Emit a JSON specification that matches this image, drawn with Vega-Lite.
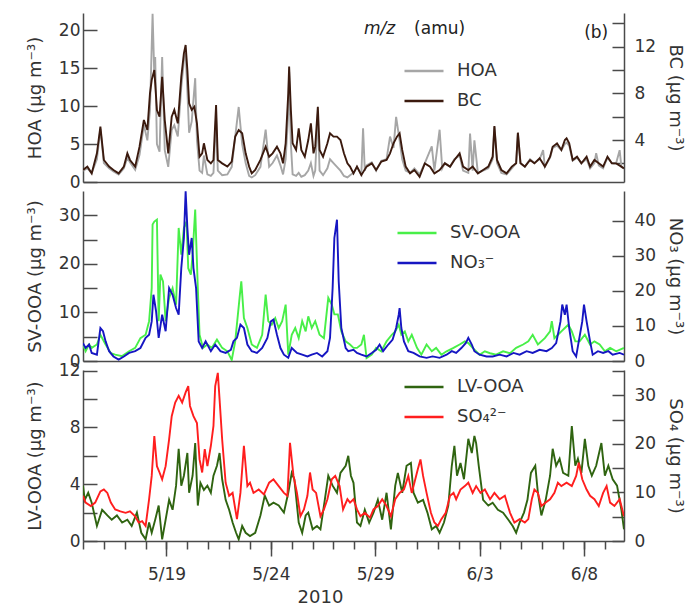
{
"$schema":"https://vega.github.io/schema/vega-lite/v6.json",
"padding":{"left":26,"top":13,"right":4,"bottom":0},
"bounds":"flush",
"spacing":9,
"config":{"font":"DejaVu Sans","view":{"stroke":null},
"axis":{"grid":false,"domainColor":"#4a4a4a","domainWidth":1.5,"tickColor":"#4a4a4a","tickWidth":1.5,"labelFont":"DejaVu Sans","labelFontSize":17,"labelColor":"#333333","titleFont":"DejaVu Sans","titleFontSize":18,"titleFontWeight":"normal","titleColor":"#333333"},
"legend":{"labelFont":"DejaVu Sans","labelFontSize":18,"labelColor":"#333333","symbolType":"stroke","symbolSize":1521,"symbolStrokeWidth":2.5,"labelOffset":12}},
"datasets":{
"hoa":[{"t":"2010-05-15T00:00","v":1.5},{"t":"2010-05-15T05:00","v":1.8},{"t":"2010-05-15T10:00","v":1.2},{"t":"2010-05-15T16:00","v":3.0},{"t":"2010-05-15T20:00","v":7.0},{"t":"2010-05-16T00:00","v":2.5},{"t":"2010-05-16T06:00","v":1.8},{"t":"2010-05-16T11:00","v":1.4},{"t":"2010-05-16T17:00","v":1.0},{"t":"2010-05-16T23:00","v":1.8},{"t":"2010-05-17T03:00","v":3.2},{"t":"2010-05-17T06:00","v":2.6},{"t":"2010-05-17T12:00","v":1.6},{"t":"2010-05-17T17:00","v":3.6},{"t":"2010-05-17T22:00","v":7.5},{"t":"2010-05-18T02:00","v":5.5},{"t":"2010-05-18T05:00","v":9.5},{"t":"2010-05-18T08:00","v":22.2},{"t":"2010-05-18T10:00","v":14.0},{"t":"2010-05-18T11:00","v":16.5},{"t":"2010-05-18T13:00","v":5.0},{"t":"2010-05-18T16:00","v":4.0},{"t":"2010-05-18T19:00","v":16.5},{"t":"2010-05-18T22:00","v":4.2},{"t":"2010-05-19T02:00","v":2.0},{"t":"2010-05-19T06:00","v":6.9},{"t":"2010-05-19T09:00","v":7.5},{"t":"2010-05-19T13:00","v":6.0},{"t":"2010-05-19T17:00","v":12.5},{"t":"2010-05-19T20:00","v":16.0},{"t":"2010-05-19T22:00","v":17.0},{"t":"2010-05-20T00:00","v":12.0},{"t":"2010-05-20T02:00","v":6.5},{"t":"2010-05-20T05:00","v":8.0},{"t":"2010-05-20T09:00","v":13.7},{"t":"2010-05-20T11:00","v":5.5},{"t":"2010-05-20T14:00","v":1.5},{"t":"2010-05-20T17:00","v":1.2},{"t":"2010-05-20T19:00","v":3.5},{"t":"2010-05-20T23:00","v":1.0},{"t":"2010-05-21T03:00","v":0.8},{"t":"2010-05-21T06:00","v":1.2},{"t":"2010-05-21T09:00","v":8.5},{"t":"2010-05-21T11:00","v":1.5},{"t":"2010-05-21T16:00","v":0.9},{"t":"2010-05-21T22:00","v":1.0},{"t":"2010-05-22T03:00","v":2.0},{"t":"2010-05-22T07:00","v":6.0},{"t":"2010-05-22T11:00","v":9.9},{"t":"2010-05-22T15:00","v":5.0},{"t":"2010-05-22T19:00","v":2.5},{"t":"2010-05-22T23:00","v":0.8},{"t":"2010-05-23T02:00","v":0.6},{"t":"2010-05-23T06:00","v":0.9},{"t":"2010-05-23T12:00","v":2.0},{"t":"2010-05-23T18:00","v":6.9},{"t":"2010-05-23T22:00","v":2.0},{"t":"2010-05-24T02:00","v":2.5},{"t":"2010-05-24T07:00","v":3.5},{"t":"2010-05-24T11:00","v":2.2},{"t":"2010-05-24T14:00","v":1.0},{"t":"2010-05-24T17:00","v":3.0},{"t":"2010-05-24T20:00","v":9.0},{"t":"2010-05-24T21:00","v":14.5},{"t":"2010-05-24T23:00","v":5.0},{"t":"2010-05-25T01:00","v":1.0},{"t":"2010-05-25T05:00","v":0.8},{"t":"2010-05-25T08:00","v":1.2},{"t":"2010-05-25T11:00","v":0.7},{"t":"2010-05-25T15:00","v":0.9},{"t":"2010-05-25T19:00","v":1.5},{"t":"2010-05-25T22:00","v":2.5},{"t":"2010-05-26T01:00","v":0.8},{"t":"2010-05-26T03:00","v":1.5},{"t":"2010-05-26T06:00","v":9.0},{"t":"2010-05-26T08:00","v":1.5},{"t":"2010-05-26T12:00","v":0.9},{"t":"2010-05-26T17:00","v":1.8},{"t":"2010-05-26T20:00","v":3.0},{"t":"2010-05-27T00:00","v":2.5},{"t":"2010-05-27T04:00","v":2.0},{"t":"2010-05-27T08:00","v":1.5},{"t":"2010-05-27T12:00","v":0.8},{"t":"2010-05-27T16:00","v":0.6},{"t":"2010-05-27T19:00","v":0.9},{"t":"2010-05-27T23:00","v":1.2},{"t":"2010-05-28T03:00","v":2.0},{"t":"2010-05-28T08:00","v":1.0},{"t":"2010-05-28T10:00","v":7.1},{"t":"2010-05-28T12:00","v":1.5},{"t":"2010-05-28T14:00","v":2.2},{"t":"2010-05-28T20:00","v":2.6},{"t":"2010-05-29T01:00","v":1.5},{"t":"2010-05-29T07:00","v":2.8},{"t":"2010-05-29T13:00","v":3.0},{"t":"2010-05-29T17:00","v":6.0},{"t":"2010-05-29T21:00","v":4.5},{"t":"2010-05-30T00:00","v":8.6},{"t":"2010-05-30T04:00","v":5.5},{"t":"2010-05-30T07:00","v":3.0},{"t":"2010-05-30T11:00","v":1.5},{"t":"2010-05-30T16:00","v":1.2},{"t":"2010-05-30T21:00","v":1.8},{"t":"2010-05-31T03:00","v":1.0},{"t":"2010-05-31T09:00","v":2.5},{"t":"2010-05-31T17:00","v":4.7},{"t":"2010-05-31T20:00","v":1.5},{"t":"2010-06-01T02:00","v":6.9},{"t":"2010-06-01T05:00","v":1.8},{"t":"2010-06-01T08:00","v":2.5},{"t":"2010-06-01T14:00","v":2.0},{"t":"2010-06-01T19:00","v":3.0},{"t":"2010-06-02T01:00","v":3.5},{"t":"2010-06-02T05:00","v":1.5},{"t":"2010-06-02T11:00","v":1.2},{"t":"2010-06-02T13:00","v":6.4},{"t":"2010-06-02T16:00","v":1.5},{"t":"2010-06-02T18:00","v":5.5},{"t":"2010-06-02T22:00","v":1.2},{"t":"2010-06-03T04:00","v":1.5},{"t":"2010-06-03T10:00","v":1.8},{"t":"2010-06-03T15:00","v":3.0},{"t":"2010-06-03T17:00","v":7.3},{"t":"2010-06-03T20:00","v":2.5},{"t":"2010-06-04T01:00","v":1.2},{"t":"2010-06-04T07:00","v":1.0},{"t":"2010-06-04T13:00","v":1.8},{"t":"2010-06-04T18:00","v":2.5},{"t":"2010-06-04T20:00","v":6.5},{"t":"2010-06-04T23:00","v":2.5},{"t":"2010-06-05T04:00","v":2.0},{"t":"2010-06-05T10:00","v":3.0},{"t":"2010-06-05T15:00","v":2.5},{"t":"2010-06-05T21:00","v":3.0},{"t":"2010-06-06T01:00","v":4.2},{"t":"2010-06-06T03:00","v":2.0},{"t":"2010-06-06T09:00","v":3.2},{"t":"2010-06-06T12:00","v":4.5},{"t":"2010-06-06T17:00","v":4.8},{"t":"2010-06-06T22:00","v":4.2},{"t":"2010-06-07T02:00","v":5.0},{"t":"2010-06-07T04:00","v":5.2},{"t":"2010-06-07T07:00","v":4.8},{"t":"2010-06-07T11:00","v":2.8},{"t":"2010-06-07T16:00","v":3.2},{"t":"2010-06-07T21:00","v":2.5},{"t":"2010-06-08T03:00","v":3.0},{"t":"2010-06-08T07:00","v":1.8},{"t":"2010-06-08T12:00","v":2.5},{"t":"2010-06-08T14:00","v":3.8},{"t":"2010-06-08T17:00","v":2.2},{"t":"2010-06-08T22:00","v":1.8},{"t":"2010-06-09T03:00","v":3.2},{"t":"2010-06-09T08:00","v":2.5},{"t":"2010-06-09T13:00","v":2.5},{"t":"2010-06-09T17:00","v":4.2},{"t":"2010-06-09T19:00","v":2.0},{"t":"2010-06-09T22:00","v":1.8}],
"bc":[{"t":"2010-05-15T00:00","v":1.43},{"t":"2010-05-15T05:00","v":1.72},{"t":"2010-05-15T10:00","v":1.14},{"t":"2010-05-15T16:00","v":2.86},{"t":"2010-05-15T20:00","v":5.15},{"t":"2010-05-16T00:00","v":2.29},{"t":"2010-05-16T06:00","v":1.72},{"t":"2010-05-16T11:00","v":1.43},{"t":"2010-05-16T17:00","v":1.14},{"t":"2010-05-16T23:00","v":1.72},{"t":"2010-05-17T03:00","v":2.86},{"t":"2010-05-17T06:00","v":2.29},{"t":"2010-05-17T12:00","v":1.72},{"t":"2010-05-17T17:00","v":3.43},{"t":"2010-05-17T22:00","v":5.72},{"t":"2010-05-18T02:00","v":4.86},{"t":"2010-05-18T05:00","v":8.0},{"t":"2010-05-18T07:00","v":9.15},{"t":"2010-05-18T10:00","v":10.0},{"t":"2010-05-18T13:00","v":6.58},{"t":"2010-05-18T16:00","v":6.0},{"t":"2010-05-18T19:00","v":9.43},{"t":"2010-05-18T22:00","v":5.72},{"t":"2010-05-19T02:00","v":2.86},{"t":"2010-05-19T06:00","v":6.0},{"t":"2010-05-19T09:00","v":6.58},{"t":"2010-05-19T13:00","v":5.43},{"t":"2010-05-19T17:00","v":9.43},{"t":"2010-05-19T20:00","v":11.44},{"t":"2010-05-19T22:00","v":12.15},{"t":"2010-05-20T00:00","v":10.0},{"t":"2010-05-20T02:00","v":7.15},{"t":"2010-05-20T05:00","v":6.58},{"t":"2010-05-20T08:00","v":6.86},{"t":"2010-05-20T11:00","v":5.43},{"t":"2010-05-20T14:00","v":2.57},{"t":"2010-05-20T17:00","v":2.86},{"t":"2010-05-20T19:00","v":3.72},{"t":"2010-05-20T23:00","v":2.29},{"t":"2010-05-21T03:00","v":2.0},{"t":"2010-05-21T06:00","v":2.29},{"t":"2010-05-21T09:00","v":7.0},{"t":"2010-05-21T11:00","v":2.29},{"t":"2010-05-21T16:00","v":2.0},{"t":"2010-05-21T22:00","v":1.72},{"t":"2010-05-22T03:00","v":2.15},{"t":"2010-05-22T07:00","v":4.29},{"t":"2010-05-22T11:00","v":4.86},{"t":"2010-05-22T15:00","v":4.58},{"t":"2010-05-22T19:00","v":2.86},{"t":"2010-05-22T23:00","v":1.72},{"t":"2010-05-23T02:00","v":1.14},{"t":"2010-05-23T06:00","v":1.43},{"t":"2010-05-23T12:00","v":2.29},{"t":"2010-05-23T18:00","v":3.43},{"t":"2010-05-23T22:00","v":2.57},{"t":"2010-05-24T02:00","v":2.86},{"t":"2010-05-24T07:00","v":3.43},{"t":"2010-05-24T11:00","v":2.86},{"t":"2010-05-24T14:00","v":2.0},{"t":"2010-05-24T17:00","v":3.72},{"t":"2010-05-24T20:00","v":8.0},{"t":"2010-05-24T21:00","v":10.3},{"t":"2010-05-24T23:00","v":6.58},{"t":"2010-05-25T01:00","v":3.72},{"t":"2010-05-25T05:00","v":3.15},{"t":"2010-05-25T08:00","v":5.0},{"t":"2010-05-25T11:00","v":3.15},{"t":"2010-05-25T15:00","v":2.57},{"t":"2010-05-25T19:00","v":4.0},{"t":"2010-05-25T22:00","v":5.43},{"t":"2010-05-26T01:00","v":2.86},{"t":"2010-05-26T03:00","v":3.43},{"t":"2010-05-26T06:00","v":6.86},{"t":"2010-05-26T08:00","v":3.15},{"t":"2010-05-26T12:00","v":2.57},{"t":"2010-05-26T17:00","v":3.72},{"t":"2010-05-26T20:00","v":4.58},{"t":"2010-05-27T00:00","v":4.29},{"t":"2010-05-27T04:00","v":4.29},{"t":"2010-05-27T08:00","v":4.0},{"t":"2010-05-27T12:00","v":2.86},{"t":"2010-05-27T16:00","v":2.0},{"t":"2010-05-27T19:00","v":1.72},{"t":"2010-05-27T23:00","v":1.14},{"t":"2010-05-28T03:00","v":1.72},{"t":"2010-05-28T08:00","v":0.99},{"t":"2010-05-28T14:00","v":1.72},{"t":"2010-05-28T20:00","v":2.0},{"t":"2010-05-29T01:00","v":1.43},{"t":"2010-05-29T07:00","v":2.15},{"t":"2010-05-29T13:00","v":2.29},{"t":"2010-05-29T17:00","v":2.86},{"t":"2010-05-29T21:00","v":3.72},{"t":"2010-05-30T01:00","v":4.29},{"t":"2010-05-30T04:00","v":4.58},{"t":"2010-05-30T07:00","v":3.15},{"t":"2010-05-30T11:00","v":1.72},{"t":"2010-05-30T16:00","v":1.14},{"t":"2010-05-30T21:00","v":1.43},{"t":"2010-05-31T03:00","v":0.85},{"t":"2010-05-31T09:00","v":2.0},{"t":"2010-05-31T15:00","v":1.72},{"t":"2010-05-31T20:00","v":1.14},{"t":"2010-06-01T02:00","v":1.43},{"t":"2010-06-01T08:00","v":2.0},{"t":"2010-06-01T14:00","v":1.72},{"t":"2010-06-01T19:00","v":2.29},{"t":"2010-06-02T01:00","v":2.86},{"t":"2010-06-02T05:00","v":1.72},{"t":"2010-06-02T11:00","v":1.43},{"t":"2010-06-02T16:00","v":1.72},{"t":"2010-06-02T22:00","v":1.14},{"t":"2010-06-03T04:00","v":1.43},{"t":"2010-06-03T10:00","v":1.72},{"t":"2010-06-03T15:00","v":2.57},{"t":"2010-06-03T17:00","v":5.2},{"t":"2010-06-03T20:00","v":2.29},{"t":"2010-06-04T01:00","v":1.43},{"t":"2010-06-04T07:00","v":1.14},{"t":"2010-06-04T13:00","v":1.72},{"t":"2010-06-04T18:00","v":2.0},{"t":"2010-06-04T20:00","v":4.63},{"t":"2010-06-04T23:00","v":2.0},{"t":"2010-06-05T04:00","v":1.72},{"t":"2010-06-05T10:00","v":2.29},{"t":"2010-06-05T15:00","v":2.0},{"t":"2010-06-05T21:00","v":2.43},{"t":"2010-06-06T03:00","v":1.72},{"t":"2010-06-06T09:00","v":2.57},{"t":"2010-06-06T12:00","v":3.43},{"t":"2010-06-06T17:00","v":3.72},{"t":"2010-06-06T22:00","v":3.15},{"t":"2010-06-07T02:00","v":4.0},{"t":"2010-06-07T04:00","v":4.15},{"t":"2010-06-07T07:00","v":3.72},{"t":"2010-06-07T11:00","v":2.29},{"t":"2010-06-07T16:00","v":2.57},{"t":"2010-06-07T21:00","v":2.0},{"t":"2010-06-08T03:00","v":2.57},{"t":"2010-06-08T07:00","v":1.72},{"t":"2010-06-08T12:00","v":2.29},{"t":"2010-06-08T17:00","v":2.0},{"t":"2010-06-08T22:00","v":1.72},{"t":"2010-06-09T03:00","v":2.57},{"t":"2010-06-09T08:00","v":2.0},{"t":"2010-06-09T13:00","v":2.0},{"t":"2010-06-09T19:00","v":1.72},{"t":"2010-06-09T22:00","v":1.57}],
"sv":[{"t":"2010-05-15T00:00","v":3.4},{"t":"2010-05-15T03:00","v":2.0},{"t":"2010-05-15T07:00","v":3.4},{"t":"2010-05-15T10:00","v":2.7},{"t":"2010-05-15T16:00","v":3.4},{"t":"2010-05-15T20:00","v":5.4},{"t":"2010-05-16T02:00","v":3.4},{"t":"2010-05-16T08:00","v":1.6},{"t":"2010-05-16T13:00","v":1.3},{"t":"2010-05-16T21:00","v":1.0},{"t":"2010-05-17T05:00","v":2.0},{"t":"2010-05-17T12:00","v":2.7},{"t":"2010-05-17T18:00","v":4.7},{"t":"2010-05-18T00:00","v":5.4},{"t":"2010-05-18T04:00","v":8.2},{"t":"2010-05-18T07:00","v":15.0},{"t":"2010-05-18T08:00","v":28.1},{"t":"2010-05-18T10:00","v":28.7},{"t":"2010-05-18T13:00","v":29.1},{"t":"2010-05-18T15:00","v":8.2},{"t":"2010-05-18T17:00","v":17.8},{"t":"2010-05-18T20:00","v":16.4},{"t":"2010-05-18T23:00","v":8.2},{"t":"2010-05-19T03:00","v":13.0},{"t":"2010-05-19T07:00","v":15.0},{"t":"2010-05-19T11:00","v":11.6},{"t":"2010-05-19T14:00","v":27.4},{"t":"2010-05-19T17:00","v":21.9},{"t":"2010-05-19T20:00","v":27.4},{"t":"2010-05-19T23:00","v":28.7},{"t":"2010-05-20T01:00","v":19.1},{"t":"2010-05-20T04:00","v":17.8},{"t":"2010-05-20T06:00","v":21.9},{"t":"2010-05-20T09:00","v":31.2},{"t":"2010-05-20T12:00","v":15.0},{"t":"2010-05-20T14:00","v":5.4},{"t":"2010-05-20T18:00","v":2.7},{"t":"2010-05-20T23:00","v":3.4},{"t":"2010-05-21T04:00","v":2.7},{"t":"2010-05-21T10:00","v":4.4},{"t":"2010-05-21T16:00","v":2.7},{"t":"2010-05-21T22:00","v":2.0},{"t":"2010-05-22T03:00","v":0.2},{"t":"2010-05-22T07:00","v":4.05},{"t":"2010-05-22T12:00","v":13.0},{"t":"2010-05-22T14:00","v":16.4},{"t":"2010-05-22T17:00","v":8.85},{"t":"2010-05-22T21:00","v":6.8},{"t":"2010-05-23T02:00","v":3.4},{"t":"2010-05-23T08:00","v":2.7},{"t":"2010-05-23T14:00","v":5.4},{"t":"2010-05-23T18:00","v":13.65},{"t":"2010-05-23T21:00","v":8.2},{"t":"2010-05-24T01:00","v":7.5},{"t":"2010-05-24T05:00","v":8.85},{"t":"2010-05-24T09:00","v":6.8},{"t":"2010-05-24T13:00","v":8.2},{"t":"2010-05-24T17:00","v":11.6},{"t":"2010-05-24T20:00","v":1.3},{"t":"2010-05-25T00:00","v":5.4},{"t":"2010-05-25T04:00","v":6.8},{"t":"2010-05-25T08:00","v":4.7},{"t":"2010-05-25T12:00","v":8.2},{"t":"2010-05-25T16:00","v":6.1},{"t":"2010-05-25T19:00","v":9.2},{"t":"2010-05-25T23:00","v":6.8},{"t":"2010-05-26T03:00","v":8.2},{"t":"2010-05-26T08:00","v":5.4},{"t":"2010-05-26T13:00","v":4.7},{"t":"2010-05-26T18:00","v":13.0},{"t":"2010-05-26T22:00","v":11.6},{"t":"2010-05-27T01:00","v":9.6},{"t":"2010-05-27T05:00","v":9.6},{"t":"2010-05-27T09:00","v":6.1},{"t":"2010-05-27T14:00","v":4.05},{"t":"2010-05-27T19:00","v":3.4},{"t":"2010-05-27T23:00","v":2.7},{"t":"2010-05-28T03:00","v":2.7},{"t":"2010-05-28T08:00","v":3.4},{"t":"2010-05-28T11:00","v":5.4},{"t":"2010-05-28T14:00","v":0.6},{"t":"2010-05-28T20:00","v":1.3},{"t":"2010-05-29T01:00","v":2.7},{"t":"2010-05-29T07:00","v":2.0},{"t":"2010-05-29T13:00","v":4.05},{"t":"2010-05-29T19:00","v":5.4},{"t":"2010-05-29T23:00","v":6.1},{"t":"2010-05-30T03:00","v":7.5},{"t":"2010-05-30T06:00","v":5.4},{"t":"2010-05-30T10:00","v":6.1},{"t":"2010-05-30T14:00","v":4.05},{"t":"2010-05-30T18:00","v":5.4},{"t":"2010-05-31T00:00","v":2.7},{"t":"2010-05-31T05:00","v":1.3},{"t":"2010-05-31T11:00","v":3.4},{"t":"2010-05-31T17:00","v":2.0},{"t":"2010-05-31T22:00","v":2.7},{"t":"2010-06-01T04:00","v":1.3},{"t":"2010-06-01T10:00","v":2.0},{"t":"2010-06-01T18:00","v":2.7},{"t":"2010-06-02T01:00","v":3.4},{"t":"2010-06-02T07:00","v":4.05},{"t":"2010-06-02T11:00","v":3.7},{"t":"2010-06-02T16:00","v":2.7},{"t":"2010-06-03T00:00","v":1.3},{"t":"2010-06-03T06:00","v":2.0},{"t":"2010-06-03T12:00","v":1.6},{"t":"2010-06-03T19:00","v":1.3},{"t":"2010-06-04T03:00","v":2.0},{"t":"2010-06-04T11:00","v":1.6},{"t":"2010-06-04T18:00","v":2.7},{"t":"2010-06-05T02:00","v":3.4},{"t":"2010-06-05T08:00","v":4.05},{"t":"2010-06-05T13:00","v":5.4},{"t":"2010-06-05T19:00","v":3.4},{"t":"2010-06-06T03:00","v":4.7},{"t":"2010-06-06T09:00","v":6.1},{"t":"2010-06-06T11:00","v":8.2},{"t":"2010-06-06T14:00","v":4.7},{"t":"2010-06-06T18:00","v":5.4},{"t":"2010-06-06T22:00","v":6.1},{"t":"2010-06-07T02:00","v":6.8},{"t":"2010-06-07T06:00","v":7.5},{"t":"2010-06-07T10:00","v":6.1},{"t":"2010-06-07T14:00","v":4.05},{"t":"2010-06-07T19:00","v":4.05},{"t":"2010-06-08T01:00","v":5.4},{"t":"2010-06-08T07:00","v":3.4},{"t":"2010-06-08T12:00","v":4.05},{"t":"2010-06-08T18:00","v":3.4},{"t":"2010-06-09T00:00","v":2.0},{"t":"2010-06-09T06:00","v":2.7},{"t":"2010-06-09T13:00","v":2.0},{"t":"2010-06-09T22:00","v":2.7}],
"no3":[{"t":"2010-05-15T00:00","v":5.1},{"t":"2010-05-15T03:00","v":3.7},{"t":"2010-05-15T07:00","v":4.7},{"t":"2010-05-15T10:00","v":2.3},{"t":"2010-05-15T16:00","v":1.8},{"t":"2010-05-15T20:00","v":9.4},{"t":"2010-05-15T23:00","v":8.5},{"t":"2010-05-16T02:00","v":5.6},{"t":"2010-05-16T06:00","v":2.8},{"t":"2010-05-16T11:00","v":1.3},{"t":"2010-05-16T17:00","v":0.4},{"t":"2010-05-16T23:00","v":1.3},{"t":"2010-05-17T05:00","v":2.3},{"t":"2010-05-17T12:00","v":2.8},{"t":"2010-05-17T18:00","v":3.7},{"t":"2010-05-18T00:00","v":6.6},{"t":"2010-05-18T04:00","v":7.5},{"t":"2010-05-18T07:00","v":11.3},{"t":"2010-05-18T09:00","v":18.9},{"t":"2010-05-18T12:00","v":14.2},{"t":"2010-05-18T15:00","v":6.6},{"t":"2010-05-18T19:00","v":13.2},{"t":"2010-05-18T23:00","v":8.5},{"t":"2010-05-19T03:00","v":20.8},{"t":"2010-05-19T07:00","v":18.9},{"t":"2010-05-19T11:00","v":15.1},{"t":"2010-05-19T14:00","v":13.2},{"t":"2010-05-19T17:00","v":26.5},{"t":"2010-05-19T20:00","v":35.1},{"t":"2010-05-19T22:00","v":48.4},{"t":"2010-05-20T00:00","v":37.9},{"t":"2010-05-20T02:00","v":30.3},{"t":"2010-05-20T05:00","v":35.1},{"t":"2010-05-20T07:00","v":26.5},{"t":"2010-05-20T10:00","v":20.8},{"t":"2010-05-20T13:00","v":5.6},{"t":"2010-05-20T17:00","v":3.7},{"t":"2010-05-20T21:00","v":5.6},{"t":"2010-05-21T03:00","v":2.8},{"t":"2010-05-21T08:00","v":4.7},{"t":"2010-05-21T14:00","v":2.8},{"t":"2010-05-21T20:00","v":2.3},{"t":"2010-05-22T02:00","v":3.2},{"t":"2010-05-22T05:00","v":5.6},{"t":"2010-05-22T09:00","v":6.6},{"t":"2010-05-22T13:00","v":10.4},{"t":"2010-05-22T17:00","v":9.4},{"t":"2010-05-22T21:00","v":4.7},{"t":"2010-05-23T02:00","v":2.8},{"t":"2010-05-23T08:00","v":2.3},{"t":"2010-05-23T14:00","v":3.7},{"t":"2010-05-23T20:00","v":6.6},{"t":"2010-05-24T00:00","v":11.3},{"t":"2010-05-24T03:00","v":11.8},{"t":"2010-05-24T07:00","v":7.5},{"t":"2010-05-24T11:00","v":3.7},{"t":"2010-05-24T15:00","v":1.8},{"t":"2010-05-24T20:00","v":0.9},{"t":"2010-05-25T00:00","v":3.7},{"t":"2010-05-25T06:00","v":2.3},{"t":"2010-05-25T12:00","v":1.8},{"t":"2010-05-25T18:00","v":1.3},{"t":"2010-05-25T23:00","v":1.8},{"t":"2010-05-26T05:00","v":2.3},{"t":"2010-05-26T11:00","v":1.3},{"t":"2010-05-26T17:00","v":2.8},{"t":"2010-05-26T20:00","v":6.6},{"t":"2010-05-26T23:00","v":20.8},{"t":"2010-05-27T01:00","v":35.1},{"t":"2010-05-27T04:00","v":40.3},{"t":"2010-05-27T06:00","v":22.7},{"t":"2010-05-27T09:00","v":9.4},{"t":"2010-05-27T14:00","v":3.7},{"t":"2010-05-27T17:00","v":2.8},{"t":"2010-05-27T23:00","v":3.2},{"t":"2010-05-28T03:00","v":2.3},{"t":"2010-05-28T08:00","v":1.8},{"t":"2010-05-28T14:00","v":1.3},{"t":"2010-05-28T20:00","v":2.3},{"t":"2010-05-29T01:00","v":3.2},{"t":"2010-05-29T05:00","v":4.7},{"t":"2010-05-29T09:00","v":2.8},{"t":"2010-05-29T15:00","v":4.7},{"t":"2010-05-29T20:00","v":6.1},{"t":"2010-05-30T00:00","v":9.4},{"t":"2010-05-30T03:00","v":13.2},{"t":"2010-05-30T04:00","v":15.1},{"t":"2010-05-30T06:00","v":9.4},{"t":"2010-05-30T09:00","v":5.6},{"t":"2010-05-30T14:00","v":2.8},{"t":"2010-05-30T20:00","v":2.3},{"t":"2010-05-31T03:00","v":1.3},{"t":"2010-05-31T11:00","v":0.9},{"t":"2010-05-31T18:00","v":1.3},{"t":"2010-06-01T02:00","v":0.9},{"t":"2010-06-01T10:00","v":1.8},{"t":"2010-06-01T16:00","v":2.8},{"t":"2010-06-01T21:00","v":2.3},{"t":"2010-06-02T03:00","v":3.7},{"t":"2010-06-02T08:00","v":5.1},{"t":"2010-06-02T11:00","v":6.6},{"t":"2010-06-02T15:00","v":4.7},{"t":"2010-06-02T18:00","v":2.8},{"t":"2010-06-03T00:00","v":1.8},{"t":"2010-06-03T08:00","v":1.3},{"t":"2010-06-03T15:00","v":1.3},{"t":"2010-06-03T23:00","v":1.8},{"t":"2010-06-04T07:00","v":1.3},{"t":"2010-06-04T15:00","v":2.3},{"t":"2010-06-04T22:00","v":1.8},{"t":"2010-06-05T06:00","v":2.8},{"t":"2010-06-05T13:00","v":2.3},{"t":"2010-06-05T21:00","v":3.2},{"t":"2010-06-06T05:00","v":2.8},{"t":"2010-06-06T11:00","v":3.7},{"t":"2010-06-06T16:00","v":5.1},{"t":"2010-06-06T21:00","v":11.3},{"t":"2010-06-06T23:00","v":16.1},{"t":"2010-06-07T02:00","v":13.2},{"t":"2010-06-07T04:00","v":16.1},{"t":"2010-06-07T07:00","v":9.4},{"t":"2010-06-07T11:00","v":2.8},{"t":"2010-06-07T15:00","v":1.3},{"t":"2010-06-07T18:00","v":5.6},{"t":"2010-06-07T22:00","v":11.3},{"t":"2010-06-08T00:00","v":16.1},{"t":"2010-06-08T03:00","v":11.3},{"t":"2010-06-08T07:00","v":5.6},{"t":"2010-06-08T10:00","v":1.8},{"t":"2010-06-08T16:00","v":2.8},{"t":"2010-06-08T22:00","v":2.3},{"t":"2010-06-09T04:00","v":2.8},{"t":"2010-06-09T09:00","v":1.8},{"t":"2010-06-09T17:00","v":2.3},{"t":"2010-06-09T22:00","v":1.8}],
"lv":[{"t":"2010-05-15T00:00","v":3.9},{"t":"2010-05-15T02:00","v":2.9},{"t":"2010-05-15T06:00","v":3.4},{"t":"2010-05-15T10:00","v":2.7},{"t":"2010-05-15T16:00","v":1.06},{"t":"2010-05-15T22:00","v":2.2},{"t":"2010-05-16T04:00","v":1.8},{"t":"2010-05-16T09:00","v":1.5},{"t":"2010-05-16T15:00","v":1.8},{"t":"2010-05-16T21:00","v":1.3},{"t":"2010-05-17T03:00","v":1.5},{"t":"2010-05-17T08:00","v":1.06},{"t":"2010-05-17T14:00","v":2.0},{"t":"2010-05-17T19:00","v":0.58},{"t":"2010-05-18T00:00","v":0.12},{"t":"2010-05-18T04:00","v":1.3},{"t":"2010-05-18T07:00","v":0.58},{"t":"2010-05-18T11:00","v":1.5},{"t":"2010-05-18T15:00","v":2.5},{"t":"2010-05-18T19:00","v":0.12},{"t":"2010-05-18T23:00","v":1.5},{"t":"2010-05-19T03:00","v":2.9},{"t":"2010-05-19T07:00","v":2.2},{"t":"2010-05-19T11:00","v":3.9},{"t":"2010-05-19T14:00","v":6.5},{"t":"2010-05-19T17:00","v":3.9},{"t":"2010-05-19T20:00","v":4.6},{"t":"2010-05-20T00:00","v":6.2},{"t":"2010-05-20T02:00","v":3.4},{"t":"2010-05-20T06:00","v":4.6},{"t":"2010-05-20T09:00","v":6.9},{"t":"2010-05-20T12:00","v":2.5},{"t":"2010-05-20T15:00","v":4.1},{"t":"2010-05-20T19:00","v":3.6},{"t":"2010-05-20T23:00","v":3.9},{"t":"2010-05-21T03:00","v":3.4},{"t":"2010-05-21T06:00","v":4.6},{"t":"2010-05-21T10:00","v":5.3},{"t":"2010-05-21T13:00","v":6.2},{"t":"2010-05-21T16:00","v":4.35},{"t":"2010-05-21T20:00","v":2.9},{"t":"2010-05-22T00:00","v":2.2},{"t":"2010-05-22T04:00","v":1.3},{"t":"2010-05-22T08:00","v":0.58},{"t":"2010-05-22T11:00","v":0.12},{"t":"2010-05-22T15:00","v":1.06},{"t":"2010-05-22T19:00","v":0.58},{"t":"2010-05-23T00:00","v":0.35},{"t":"2010-05-23T06:00","v":0.58},{"t":"2010-05-23T12:00","v":1.8},{"t":"2010-05-23T17:00","v":3.2},{"t":"2010-05-23T22:00","v":2.5},{"t":"2010-05-24T03:00","v":2.7},{"t":"2010-05-24T09:00","v":2.5},{"t":"2010-05-24T15:00","v":2.0},{"t":"2010-05-24T20:00","v":3.4},{"t":"2010-05-25T00:00","v":4.8},{"t":"2010-05-25T03:00","v":4.35},{"t":"2010-05-25T08:00","v":1.3},{"t":"2010-05-25T12:00","v":0.58},{"t":"2010-05-25T16:00","v":1.8},{"t":"2010-05-25T19:00","v":2.0},{"t":"2010-05-26T00:00","v":0.82},{"t":"2010-05-26T05:00","v":1.06},{"t":"2010-05-26T09:00","v":0.82},{"t":"2010-05-26T14:00","v":2.9},{"t":"2010-05-26T18:00","v":4.6},{"t":"2010-05-26T23:00","v":3.9},{"t":"2010-05-27T04:00","v":3.4},{"t":"2010-05-27T08:00","v":4.8},{"t":"2010-05-27T14:00","v":5.3},{"t":"2010-05-27T17:00","v":6.0},{"t":"2010-05-27T20:00","v":4.6},{"t":"2010-05-27T23:00","v":4.1},{"t":"2010-05-28T03:00","v":1.3},{"t":"2010-05-28T07:00","v":1.06},{"t":"2010-05-28T12:00","v":2.2},{"t":"2010-05-28T17:00","v":1.3},{"t":"2010-05-28T22:00","v":2.0},{"t":"2010-05-29T03:00","v":2.9},{"t":"2010-05-29T08:00","v":1.5},{"t":"2010-05-29T13:00","v":3.4},{"t":"2010-05-29T18:00","v":0.82},{"t":"2010-05-29T23:00","v":3.9},{"t":"2010-05-30T02:00","v":4.8},{"t":"2010-05-30T07:00","v":3.4},{"t":"2010-05-30T12:00","v":5.3},{"t":"2010-05-30T17:00","v":5.5},{"t":"2010-05-30T20:00","v":3.4},{"t":"2010-05-31T01:00","v":2.7},{"t":"2010-05-31T07:00","v":2.9},{"t":"2010-05-31T12:00","v":2.0},{"t":"2010-05-31T17:00","v":0.82},{"t":"2010-05-31T22:00","v":1.06},{"t":"2010-06-01T02:00","v":0.58},{"t":"2010-06-01T07:00","v":1.3},{"t":"2010-06-01T12:00","v":2.5},{"t":"2010-06-01T16:00","v":5.3},{"t":"2010-06-01T19:00","v":6.7},{"t":"2010-06-01T22:00","v":4.6},{"t":"2010-06-02T02:00","v":5.5},{"t":"2010-06-02T06:00","v":4.35},{"t":"2010-06-02T11:00","v":7.2},{"t":"2010-06-02T15:00","v":6.2},{"t":"2010-06-02T18:00","v":7.4},{"t":"2010-06-02T20:00","v":6.9},{"t":"2010-06-02T23:00","v":5.3},{"t":"2010-06-03T04:00","v":2.9},{"t":"2010-06-03T10:00","v":2.5},{"t":"2010-06-03T15:00","v":2.7},{"t":"2010-06-03T21:00","v":2.2},{"t":"2010-06-04T03:00","v":2.0},{"t":"2010-06-04T09:00","v":1.5},{"t":"2010-06-04T14:00","v":1.06},{"t":"2010-06-04T18:00","v":0.58},{"t":"2010-06-04T22:00","v":1.3},{"t":"2010-06-05T03:00","v":2.0},{"t":"2010-06-05T07:00","v":2.9},{"t":"2010-06-05T11:00","v":4.8},{"t":"2010-06-05T16:00","v":5.3},{"t":"2010-06-05T19:00","v":3.4},{"t":"2010-06-05T23:00","v":1.8},{"t":"2010-06-06T04:00","v":2.9},{"t":"2010-06-06T09:00","v":4.6},{"t":"2010-06-06T12:00","v":6.5},{"t":"2010-06-06T16:00","v":5.3},{"t":"2010-06-06T20:00","v":5.8},{"t":"2010-06-07T00:00","v":4.8},{"t":"2010-06-07T06:00","v":4.6},{"t":"2010-06-07T10:00","v":8.1},{"t":"2010-06-07T14:00","v":5.3},{"t":"2010-06-07T17:00","v":5.8},{"t":"2010-06-07T21:00","v":4.8},{"t":"2010-06-08T01:00","v":7.2},{"t":"2010-06-08T05:00","v":5.3},{"t":"2010-06-08T09:00","v":4.6},{"t":"2010-06-08T14:00","v":5.3},{"t":"2010-06-08T20:00","v":6.9},{"t":"2010-06-09T00:00","v":4.6},{"t":"2010-06-09T04:00","v":5.3},{"t":"2010-06-09T09:00","v":4.35},{"t":"2010-06-09T14:00","v":3.9},{"t":"2010-06-09T19:00","v":2.2},{"t":"2010-06-09T22:00","v":0.82}],
"so4":[{"t":"2010-05-15T00:00","v":9.3},{"t":"2010-05-15T03:00","v":7.9},{"t":"2010-05-15T09:00","v":7.2},{"t":"2010-05-15T14:00","v":7.9},{"t":"2010-05-15T20:00","v":10.2},{"t":"2010-05-16T00:00","v":10.6},{"t":"2010-05-16T04:00","v":9.9},{"t":"2010-05-16T08:00","v":7.9},{"t":"2010-05-16T13:00","v":6.5},{"t":"2010-05-16T19:00","v":6.1},{"t":"2010-05-17T01:00","v":5.8},{"t":"2010-05-17T06:00","v":6.1},{"t":"2010-05-17T12:00","v":5.1},{"t":"2010-05-17T16:00","v":3.8},{"t":"2010-05-17T20:00","v":4.1},{"t":"2010-05-18T00:00","v":3.1},{"t":"2010-05-18T04:00","v":8.6},{"t":"2010-05-18T07:00","v":13.4},{"t":"2010-05-18T10:00","v":21.6},{"t":"2010-05-18T13:00","v":15.4},{"t":"2010-05-18T16:00","v":14.1},{"t":"2010-05-18T19:00","v":12.7},{"t":"2010-05-18T23:00","v":15.4},{"t":"2010-05-19T03:00","v":20.9},{"t":"2010-05-19T06:00","v":25.7},{"t":"2010-05-19T10:00","v":28.5},{"t":"2010-05-19T14:00","v":29.9},{"t":"2010-05-19T18:00","v":28.5},{"t":"2010-05-19T22:00","v":30.6},{"t":"2010-05-20T01:00","v":31.9},{"t":"2010-05-20T03:00","v":27.8},{"t":"2010-05-20T07:00","v":25.7},{"t":"2010-05-20T11:00","v":24.3},{"t":"2010-05-20T14:00","v":16.8},{"t":"2010-05-20T17:00","v":14.1},{"t":"2010-05-20T20:00","v":18.9},{"t":"2010-05-20T23:00","v":15.4},{"t":"2010-05-21T03:00","v":19.6},{"t":"2010-05-21T06:00","v":23.7},{"t":"2010-05-21T08:00","v":31.9},{"t":"2010-05-21T11:00","v":34.6},{"t":"2010-05-21T13:00","v":29.2},{"t":"2010-05-21T16:00","v":20.9},{"t":"2010-05-21T20:00","v":12.0},{"t":"2010-05-22T00:00","v":9.3},{"t":"2010-05-22T04:00","v":9.9},{"t":"2010-05-22T09:00","v":4.5},{"t":"2010-05-22T13:00","v":9.9},{"t":"2010-05-22T17:00","v":19.6},{"t":"2010-05-22T21:00","v":11.3},{"t":"2010-05-23T00:00","v":12.0},{"t":"2010-05-23T04:00","v":9.9},{"t":"2010-05-23T10:00","v":10.6},{"t":"2010-05-23T16:00","v":9.6},{"t":"2010-05-23T22:00","v":12.0},{"t":"2010-05-24T03:00","v":12.7},{"t":"2010-05-24T09:00","v":11.3},{"t":"2010-05-24T15:00","v":9.9},{"t":"2010-05-24T19:00","v":9.3},{"t":"2010-05-24T22:00","v":20.2},{"t":"2010-05-25T02:00","v":13.4},{"t":"2010-05-25T06:00","v":9.9},{"t":"2010-05-25T10:00","v":5.1},{"t":"2010-05-25T14:00","v":6.5},{"t":"2010-05-25T18:00","v":9.3},{"t":"2010-05-25T21:00","v":14.1},{"t":"2010-05-26T00:00","v":10.6},{"t":"2010-05-26T04:00","v":9.9},{"t":"2010-05-26T09:00","v":5.1},{"t":"2010-05-26T13:00","v":6.5},{"t":"2010-05-26T17:00","v":8.6},{"t":"2010-05-26T22:00","v":12.7},{"t":"2010-05-27T02:00","v":13.4},{"t":"2010-05-27T07:00","v":11.3},{"t":"2010-05-27T11:00","v":6.5},{"t":"2010-05-27T16:00","v":8.6},{"t":"2010-05-27T19:00","v":7.9},{"t":"2010-05-27T23:00","v":8.6},{"t":"2010-05-28T03:00","v":6.5},{"t":"2010-05-28T07:00","v":5.1},{"t":"2010-05-28T12:00","v":5.8},{"t":"2010-05-28T18:00","v":4.8},{"t":"2010-05-28T22:00","v":6.5},{"t":"2010-05-29T03:00","v":7.2},{"t":"2010-05-29T08:00","v":8.6},{"t":"2010-05-29T13:00","v":7.2},{"t":"2010-05-29T18:00","v":5.1},{"t":"2010-05-29T23:00","v":8.6},{"t":"2010-05-30T04:00","v":9.9},{"t":"2010-05-30T09:00","v":10.6},{"t":"2010-05-30T14:00","v":13.4},{"t":"2010-05-30T18:00","v":9.9},{"t":"2010-05-30T21:00","v":12.0},{"t":"2010-05-31T01:00","v":14.8},{"t":"2010-05-31T04:00","v":16.8},{"t":"2010-05-31T07:00","v":13.4},{"t":"2010-05-31T11:00","v":9.9},{"t":"2010-05-31T16:00","v":5.8},{"t":"2010-05-31T20:00","v":3.8},{"t":"2010-06-01T00:00","v":3.1},{"t":"2010-06-01T04:00","v":4.5},{"t":"2010-06-01T09:00","v":5.8},{"t":"2010-06-01T14:00","v":9.3},{"t":"2010-06-01T18:00","v":9.9},{"t":"2010-06-01T21:00","v":8.6},{"t":"2010-06-02T02:00","v":10.6},{"t":"2010-06-02T07:00","v":11.3},{"t":"2010-06-02T11:00","v":12.0},{"t":"2010-06-02T16:00","v":9.9},{"t":"2010-06-02T20:00","v":11.3},{"t":"2010-06-03T01:00","v":9.9},{"t":"2010-06-03T06:00","v":10.6},{"t":"2010-06-03T12:00","v":8.6},{"t":"2010-06-03T17:00","v":9.9},{"t":"2010-06-03T23:00","v":8.6},{"t":"2010-06-04T05:00","v":9.3},{"t":"2010-06-04T11:00","v":5.8},{"t":"2010-06-04T16:00","v":3.8},{"t":"2010-06-04T22:00","v":4.5},{"t":"2010-06-05T04:00","v":3.8},{"t":"2010-06-05T08:00","v":4.5},{"t":"2010-06-05T12:00","v":8.6},{"t":"2010-06-05T15:00","v":10.6},{"t":"2010-06-05T19:00","v":9.9},{"t":"2010-06-05T23:00","v":7.2},{"t":"2010-06-06T04:00","v":7.9},{"t":"2010-06-06T09:00","v":8.6},{"t":"2010-06-06T14:00","v":9.9},{"t":"2010-06-06T18:00","v":12.0},{"t":"2010-06-06T22:00","v":11.3},{"t":"2010-06-07T04:00","v":12.0},{"t":"2010-06-07T10:00","v":11.3},{"t":"2010-06-07T15:00","v":13.4},{"t":"2010-06-07T18:00","v":16.1},{"t":"2010-06-07T22:00","v":12.7},{"t":"2010-06-08T03:00","v":10.6},{"t":"2010-06-08T07:00","v":9.3},{"t":"2010-06-08T12:00","v":8.6},{"t":"2010-06-08T17:00","v":7.2},{"t":"2010-06-08T22:00","v":9.9},{"t":"2010-06-09T02:00","v":11.3},{"t":"2010-06-09T06:00","v":7.9},{"t":"2010-06-09T11:00","v":7.2},{"t":"2010-06-09T17:00","v":8.6},{"t":"2010-06-09T22:00","v":5.1}],
"lab_it":[{"t":"2010-05-29T05:00","y":20.2,"label":"m/z"}],
"lab":[{"t":"2010-06-01T02:00","y":20.2,"label":"(amu)"},{"t":"2010-06-08T14:00","y":19.7,"label":"(b)"}]
},
"vconcat":[
{"width":541,"height":169,
"encoding":{"x":{"field":"t","type":"temporal","scale":{"domain":[{"year":2010,"month":5,"date":15},{"year":2010,"month":6,"date":9,"hours":22}]},"axis":{"title":null,"labels":false,"ticks":false}}},
"layer":[
{"data":{"name":"hoa"},"mark":{"type":"line","strokeWidth":1.9,"clip":true},
"encoding":{"y":{"field":"v","type":"quantitative","scale":{"domain":[0,22.3]},"axis":{"orient":"left","values":[0,5,10,15,20],"tickSize":-14,"labelPadding":17,"title":"HOA (µg m⁻³)","titlePadding":14}},
"color":{"datum":"HOA","type":"nominal","scale":{"domain":["HOA","BC"],"range":["#a6a6a6","#3b1a0e"]},"legend":{"title":null,"orient":"none","legendX":320,"legendY":37,"rowPadding":-15}}}},
{"data":{"name":"bc"},"mark":{"type":"line","strokeWidth":1.9,"clip":true},
"encoding":{"y":{"field":"v","type":"quantitative","scale":{"domain":[0.4,14.9]},"axis":{"orient":"right","values":[2,4,6,8,10,12,14],"labelExpr":"datum.value % 4 === 0 ? datum.label : ''","tickSize":-12,"labelPadding":22,"title":"BC (µg m⁻³)","titlePadding":10}},
"color":{"datum":"BC","type":"nominal"}}},
{"data":{"name":"lab_it"},"mark":{"type":"text","fontStyle":"italic","fontSize":17,"color":"#222222"},
"encoding":{"y":{"field":"y","type":"quantitative","scale":{"domain":[0,22.3]},"axis":null},"text":{"field":"label"}}},
{"data":{"name":"lab"},"mark":{"type":"text","fontSize":17,"color":"#222222"},
"encoding":{"y":{"field":"y","type":"quantitative","scale":{"domain":[0,22.3]},"axis":null},"text":{"field":"label"}}}
],
"resolve":{"scale":{"y":"independent"}}},
{"width":541,"height":170,
"encoding":{"x":{"field":"t","type":"temporal","scale":{"domain":[{"year":2010,"month":5,"date":15},{"year":2010,"month":6,"date":9,"hours":22}]},"axis":{"title":null,"labels":false,"ticks":false}}},
"layer":[
{"data":{"name":"sv"},"mark":{"type":"line","strokeWidth":1.9,"clip":true},
"encoding":{"y":{"field":"v","type":"quantitative","scale":{"domain":[0,35]},"axis":{"orient":"left","values":[0,5,10,15,20,25,30],"labelExpr":"datum.value % 10 === 0 ? datum.label : ''","tickSize":-14,"labelPadding":17,"title":"SV-OOA (µg m⁻³)","titlePadding":14}},
"color":{"datum":"SV-OOA","type":"nominal","scale":{"domain":["SV-OOA","NO₃⁻"],"range":["#48ef48","#1616c2"]},"legend":{"title":null,"orient":"none","legendX":313,"legendY":21,"rowPadding":-3}}}},
{"data":{"name":"no3"},"mark":{"type":"line","strokeWidth":1.9,"clip":true},
"encoding":{"y":{"field":"v","type":"quantitative","scale":{"domain":[0,48.5]},"axis":{"orient":"right","values":[0,10,20,30,40],"tickSize":-12,"labelPadding":22,"title":"NO₃ (µg m⁻³)","titlePadding":10}},
"color":{"datum":"NO₃⁻","type":"nominal"}}}
],
"resolve":{"scale":{"y":"independent"}}},
{"width":541,"height":171,
"layer":[
{"data":{"name":"lv"},"mark":{"type":"line","strokeWidth":1.9,"clip":true},
"encoding":{"x":{"field":"t","type":"temporal","scale":{"domain":[{"year":2010,"month":5,"date":15},{"year":2010,"month":6,"date":9,"hours":22}]},"axis":{"orient":"bottom","title":null,"labels":false,"tickCount":{"interval":"day","step":1},"tickSize":8}},
"y":{"field":"v","type":"quantitative","scale":{"domain":[0,12.05]},"axis":{"orient":"left","values":[0,2,4,6,8,10,12],"labelExpr":"datum.value % 4 === 0 ? datum.label : ''","tickSize":-14,"labelPadding":17,"title":"LV-OOA (µg m⁻³)","titlePadding":14}},
"color":{"datum":"LV-OOA","type":"nominal","scale":{"domain":["LV-OOA","SO₄²⁻"],"range":["#2f6410","#ff1e1e"]},"legend":{"title":null,"orient":"none","legendX":320,"legendY":-4,"rowPadding":-2}}}},
{"data":{"name":"so4"},"mark":{"type":"line","strokeWidth":1.9,"clip":true},
"encoding":{"x":{"field":"t","type":"temporal","axis":{"orient":"bottom","values":[{"year":2010,"month":5,"date":19},{"year":2010,"month":5,"date":24},{"year":2010,"month":5,"date":29},{"year":2010,"month":6,"date":3},{"year":2010,"month":6,"date":8}],"format":"%-m/%-d","tickSize":15,"labelPadding":10,"domain":false,"title":"2010","titleX":237,"titlePadding":6}},
"y":{"field":"v","type":"quantitative","scale":{"domain":[0,35.2]},"axis":{"orient":"right","values":[0,5,10,15,20,25,30,35],"labelExpr":"datum.value % 10 === 0 ? datum.label : ''","tickSize":-12,"labelPadding":22,"title":"SO₄ (µg m⁻³)","titlePadding":10}},
"color":{"datum":"SO₄²⁻","type":"nominal"}}}
],
"resolve":{"scale":{"y":"independent"},"axis":{"x":"independent"}}}
],
"resolve":{"scale":{"color":"independent"}}
}
